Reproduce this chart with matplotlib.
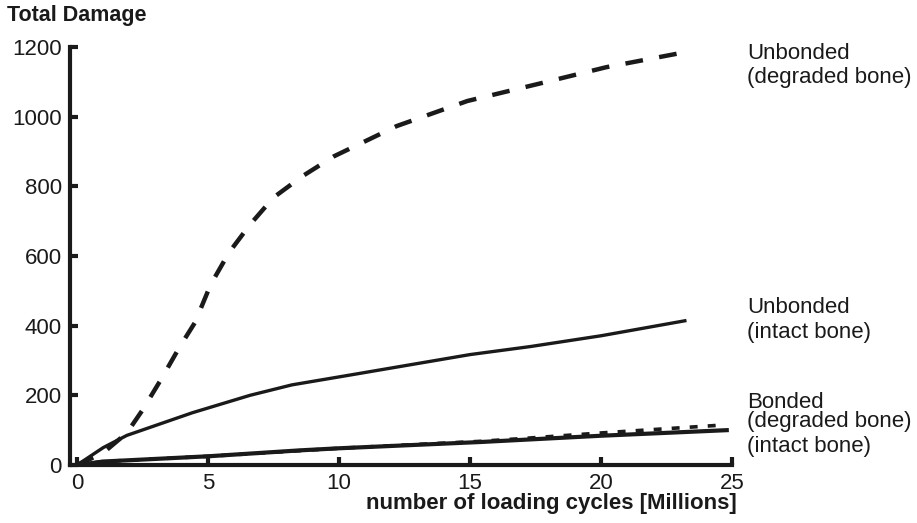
import matplotlib
matplotlib.use("Agg")
import matplotlib.pyplot as plt

plt.rcParams["font.family"] = ["Liberation Sans", "DejaVu Sans"]

# loading cycles (millions) vs total damage
unb_deg_x = [0, 1.0, 1.9, 2.5, 3.2, 3.9, 4.5, 5.1, 5.8, 6.6, 7.5, 8.6, 9.8, 12.2, 14.9, 17.6, 20.2, 23.2]
unb_deg_y = [0, 35, 92, 158, 245, 337, 409, 518, 610, 690, 768, 829, 886, 973, 1045, 1094, 1142, 1185]

unb_int_x = [0, 1.0, 1.9, 4.4, 6.6, 8.2, 10.4, 15.0, 17.3, 20.0, 23.2]
unb_int_y = [0, 50, 85, 150, 200, 230, 258, 317, 340, 371, 414]

bon_int_x = [0, 1, 5, 8.5, 10, 15.4, 20, 24.8]
bon_int_y = [0, 10, 25, 42, 48, 66, 84, 100]

bon_deg_x = [0, 1, 5, 10, 15.4, 17, 20, 24.7]
bon_deg_y = [0, 10, 25, 48, 68, 76, 92, 115]

fig = plt.figure(figsize=(9.17, 5.23), dpi=100)
ax = fig.add_axes([70 / 917, 58 / 523, 662 / 917, 418 / 523])

ink = "#1a1a1a"
ax.plot(unb_deg_x, unb_deg_y, color=ink, lw=3.2, linestyle=(0, (4, 3.7)))
ax.plot(unb_int_x, unb_int_y, color=ink, lw=2.4)
ax.plot(bon_deg_x, bon_deg_y, color=ink, lw=2.6, linestyle=(0, (2.2, 2.8)))
ax.plot(bon_int_x, bon_int_y, color=ink, lw=3.0)

ax.set_xlim(-0.27, 25)
ax.set_ylim(0, 1200)
ax.set_xticks([0, 5, 10, 15, 20, 25])
ax.set_yticks([0, 200, 400, 600, 800, 1000, 1200])

for side in ["top", "right"]:
    ax.spines[side].set_visible(False)
for side in ["left", "bottom"]:
    ax.spines[side].set_linewidth(3)
    ax.spines[side].set_color(ink)
ax.tick_params(direction="in", length=6, width=3, color=ink,
               labelsize=16, pad=6, labelcolor=ink)

fig.text(7 / 917, 1 - 21 / 523, "Total Damage", fontsize=15.5, fontweight="bold",
         va="baseline", color=ink)
fig.text(737 / 917, 1 - 509 / 523, "number of loading cycles [Millions]", fontsize=16,
         fontweight="bold", ha="right", va="baseline", color=ink)

lab = dict(fontsize=16, va="baseline", color=ink)
fig.text(747 / 917, 1 - 59 / 523, "Unbonded", **lab)
fig.text(747 / 917, 1 - 83 / 523, "(degraded bone)", **lab)
fig.text(747 / 917, 1 - 313 / 523, "Unbonded", **lab)
fig.text(747 / 917, 1 - 338 / 523, "(intact bone)", **lab)
fig.text(747 / 917, 1 - 408 / 523, "Bonded", **lab)
fig.text(747 / 917, 1 - 427 / 523, "(degraded bone)", **lab)
fig.text(747 / 917, 1 - 452 / 523, "(intact bone)", **lab)

fig.savefig("out.png", dpi=100)
